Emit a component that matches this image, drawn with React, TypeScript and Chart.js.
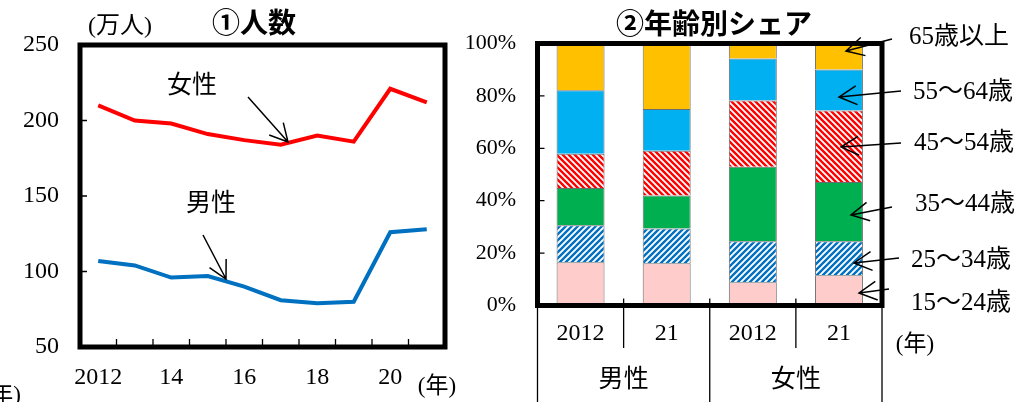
import React, { useEffect, useRef } from "react";
import { Chart, registerables } from "chart.js";

Chart.register(...registerables);

// ---------- data: ① 人数 ----------
const years = ["2012", "13", "14", "15", "16", "17", "18", "19", "20", "21"];
const yearTickLabels = ["2012", "", "14", "", "16", "", "18", "", "20", ""];
const femaleCount = [210, 200, 198, 191, 187, 184, 190, 186, 221, 212];
const maleCount = [107, 104, 96, 97, 90, 81, 79, 80, 126, 128];
const countMin = 50;
const countMax = 250;
const countStep = 50;

// ---------- data: ② 年齢別シェア ----------
const shareCategories = ["2012", "21", "2012", "21"];
const shareGroups = ["男性", "女性"];
const ageGroups = ["15～24歳", "25～34歳", "35～44歳", "45～54歳", "55～64歳", "65歳以上"];
const share15to24 = [16.5, 16.1, 8.9, 11.5];
const share25to34 = [14.1, 13.3, 15.6, 13.0];
const share35to44 = [14.2, 12.6, 28.5, 22.6];
const share45to54 = [13.1, 17.1, 25.2, 27.3];
const share55to64 = [24.3, 15.9, 16.1, 15.7];
const share65plus = [17.8, 25.0, 5.7, 9.9];

const W = 1018;
const H = 402;
const SERIF = '"Liberation Serif", "Noto Sans CJK JP", serif';
const GOTHIC = '"Noto Sans CJK JP", sans-serif';

function makeStripe(color: string, dir: "down" | "up"): CanvasPattern | string {
  const s = 6;
  const c = document.createElement("canvas");
  c.width = s;
  c.height = s;
  const g = c.getContext("2d");
  if (!g) return color;
  g.fillStyle = "#ffffff";
  g.fillRect(0, 0, s, s);
  g.strokeStyle = color;
  g.lineWidth = 2.4;
  g.lineCap = "square";
  g.beginPath();
  for (const k of [-s, 0, s]) {
    if (dir === "down") {
      g.moveTo(k, 0);
      g.lineTo(k + s, s);
    } else {
      g.moveTo(k, s);
      g.lineTo(k + s, 0);
    }
  }
  g.stroke();
  return g.createPattern(c, "repeat") || color;
}

function drawArrow(ctx: CanvasRenderingContext2D, x1: number, y1: number, x2: number, y2: number) {
  const a = Math.atan2(y1 - y2, x1 - x2);
  const L = 20;
  const t = (28 * Math.PI) / 180;
  ctx.beginPath();
  ctx.moveTo(x1, y1);
  ctx.lineTo(x2, y2);
  ctx.moveTo(x2 + L * Math.cos(a + t), y2 + L * Math.sin(a + t));
  ctx.lineTo(x2, y2);
  ctx.lineTo(x2 + L * Math.cos(a - t), y2 + L * Math.sin(a - t));
  ctx.stroke();
}

function text(ctx: CanvasRenderingContext2D, s: string, x: number, y: number, font: string, align: CanvasTextAlign = "center") {
  ctx.font = font;
  ctx.fillStyle = "#000";
  ctx.textAlign = align;
  ctx.textBaseline = "middle";
  ctx.fillText(s, x, y);
}

const lineDecor = {
  id: "lineDecor",
  afterDraw(chart: any) {
    const ctx: CanvasRenderingContext2D = chart.ctx;
    const { left, right, top, bottom } = chart.chartArea;
    const xs = chart.scales.x;
    const ys = chart.scales.y;
    ctx.save();
    ctx.strokeStyle = "#000";
    ctx.lineWidth = 5;
    ctx.strokeRect(left, top, right - left, bottom - top);
    ctx.lineWidth = 1.3;
    ctx.beginPath();
    for (let i = 0; i < years.length - 1; i++) {
      const x = (xs.getPixelForValue(i) + xs.getPixelForValue(i + 1)) / 2;
      ctx.moveTo(x, bottom);
      ctx.lineTo(x, bottom - 8);
    }
    for (let v = countMin + countStep; v < countMax; v += countStep) {
      const y = ys.getPixelForValue(v);
      ctx.moveTo(left, y);
      ctx.lineTo(left + 7, y);
    }
    ctx.stroke();
    text(ctx, "①人数", 254, 22, `bold 28px ${GOTHIC}`);
    text(ctx, "(万人)", 120, 27, `24px ${SERIF}`);
    text(ctx, "(年)", 437, 387, `23px ${SERIF}`);
    text(ctx, "(年)", 21, 396, `23px ${SERIF}`, "right");
    text(ctx, "女性", 192, 86, `25px ${SERIF}`);
    text(ctx, "男性", 211, 204, `25px ${SERIF}`);
    ctx.lineWidth = 1.5;
    drawArrow(ctx, 248, 97, 288, 142);
    drawArrow(ctx, 203, 235, 226, 279);
    ctx.restore();
  },
};

const legendPos = [
  { tx: 911, ty: 303, x1: 889, y1: 289, x2: 859, y2: 293 },
  { tx: 911, ty: 260, x1: 899, y1: 258, x2: 854, y2: 263 },
  { tx: 915, ty: 204, x1: 892, y1: 207, x2: 851, y2: 215 },
  { tx: 914, ty: 143, x1: 901, y1: 143, x2: 841, y2: 147 },
  { tx: 913, ty: 92, x1: 901, y1: 91, x2: 839, y2: 97 },
  { tx: 909, ty: 37, x1: 892, y1: 39, x2: 846, y2: 51 },
];

const barDecor = {
  id: "barDecor",
  afterDraw(chart: any) {
    const ctx: CanvasRenderingContext2D = chart.ctx;
    const { left, right, top, bottom } = chart.chartArea;
    const xs = chart.scales.x;
    const ys = chart.scales.y;
    ctx.save();
    ctx.strokeStyle = "#000";
    ctx.lineWidth = 5;
    ctx.strokeRect(left, top, right - left, bottom - top);
    ctx.lineWidth = 1.3;
    ctx.beginPath();
    for (let v = 20; v < 100; v += 20) {
      const y = ys.getPixelForValue(v);
      ctx.moveTo(left, y);
      ctx.lineTo(left + 7, y);
    }
    ctx.moveTo(left, bottom);
    ctx.lineTo(left, H);
    ctx.moveTo(right, bottom);
    ctx.lineTo(right, H);
    for (let i = 0; i < shareCategories.length - 1; i++) {
      const x = (xs.getPixelForValue(i) + xs.getPixelForValue(i + 1)) / 2;
      const isGroupEdge = (i + 1) % 2 === 0;
      ctx.moveTo(x, bottom - 7);
      ctx.lineTo(x, isGroupEdge ? H : 348);
    }
    ctx.stroke();
    shareGroups.forEach((g, gi) => {
      const x = (xs.getPixelForValue(gi * 2) + xs.getPixelForValue(gi * 2 + 1)) / 2;
      text(ctx, g, x, 380, `25px ${SERIF}`);
    });
    text(ctx, "②年齢別シェア", 714, 23, `bold 28px ${GOTHIC}`);
    text(ctx, "(年)", 915, 345, `23px ${SERIF}`);
    ctx.lineWidth = 1.5;
    ageGroups.forEach((a, i) => {
      const p = legendPos[i];
      text(ctx, a, p.tx, p.ty, `25px ${SERIF}`, "left");
      drawArrow(ctx, p.x1, p.y1, p.x2, p.y2);
    });
    ctx.restore();
  },
};

export default function App() {
  const lineRef = useRef<HTMLCanvasElement>(null);
  const barRef = useRef<HTMLCanvasElement>(null);

  useEffect(() => {
    if (!lineRef.current || !barRef.current) return;

    const lineChart = new Chart(lineRef.current, {
      type: "line",
      data: {
        labels: years,
        datasets: [
          { label: "女性", data: femaleCount, borderColor: "#FF0000", borderWidth: 4, pointRadius: 0, tension: 0, fill: false },
          { label: "男性", data: maleCount, borderColor: "#0070C0", borderWidth: 4, pointRadius: 0, tension: 0, fill: false },
        ],
      },
      options: {
        responsive: false,
        animation: false,
        devicePixelRatio: 1,
        layout: { padding: { left: 0, top: 45, right: W - 445, bottom: 0 } },
        plugins: { legend: { display: false }, tooltip: { enabled: false }, title: { display: false } },
        scales: {
          x: {
            offset: true,
            grid: { display: false, drawTicks: false },
            border: { display: false },
            ticks: {
              autoSkip: false,
              maxRotation: 0,
              padding: 16,
              color: "#000",
              font: { family: SERIF, size: 24 },
              callback: (_v: any, i: number) => yearTickLabels[i],
            },
            afterFit: (s: any) => {
              s.height = H - 347;
            },
          },
          y: {
            min: countMin,
            max: countMax,
            grid: { display: false, drawTicks: false },
            border: { display: false },
            ticks: { stepSize: countStep, padding: 21, color: "#000", font: { family: SERIF, size: 24 } },
            afterFit: (s: any) => {
              s.width = 80;
            },
          },
        },
      },
      plugins: [lineDecor],
    } as any);

    const red = makeStripe("#FF0000", "down");
    const blue = makeStripe("#0070C0", "up");
    const mk = (label: string, data: number[], bg: any) => ({
      label,
      data,
      backgroundColor: bg,
      borderColor: "#6b6b6b",
      borderWidth: 1,
      barPercentage: 0.557,
      categoryPercentage: 1,
    });

    const barChart = new Chart(barRef.current, {
      type: "bar",
      data: {
        labels: shareCategories,
        datasets: [
          mk(ageGroups[0], share15to24, "#FFCCCC"),
          mk(ageGroups[1], share25to34, blue),
          mk(ageGroups[2], share35to44, "#00B050"),
          mk(ageGroups[3], share45to54, red),
          mk(ageGroups[4], share55to64, "#00B0F0"),
          mk(ageGroups[5], share65plus, "#FFC000"),
        ],
      },
      options: {
        responsive: false,
        animation: false,
        devicePixelRatio: 1,
        layout: { padding: { left: 440, top: 43.5, right: W - 882, bottom: 0 } },
        plugins: { legend: { display: false }, tooltip: { enabled: false }, title: { display: false } },
        scales: {
          x: {
            stacked: true,
            grid: { display: false, drawTicks: false },
            border: { display: false },
            ticks: { autoSkip: false, maxRotation: 0, padding: 14, color: "#000", font: { family: SERIF, size: 24 } },
            afterFit: (s: any) => {
              s.height = H - 305.5;
            },
          },
          y: {
            stacked: true,
            min: 0,
            max: 100,
            grid: { display: false, drawTicks: false },
            border: { display: false },
            ticks: {
              stepSize: 20,
              padding: 21.5,
              color: "#000",
              font: { family: SERIF, size: 22 },
              callback: (v: any) => `${v}%`,
            },
            afterFit: (s: any) => {
              s.width = 537.5 - 440;
            },
          },
        },
      },
      plugins: [barDecor],
    } as any);

    return () => {
      lineChart.destroy();
      barChart.destroy();
    };
  }, []);

  return (
    <div style={{ position: "absolute", left: 0, top: 0, width: W, height: H, background: "#fff", overflow: "hidden" }}>
      <canvas ref={lineRef} width={W} height={H} style={{ position: "absolute", left: 0, top: 0, display: "block" }} />
      <canvas ref={barRef} width={W} height={H} style={{ position: "absolute", left: 0, top: 0, display: "block" }} />
    </div>
  );
}
